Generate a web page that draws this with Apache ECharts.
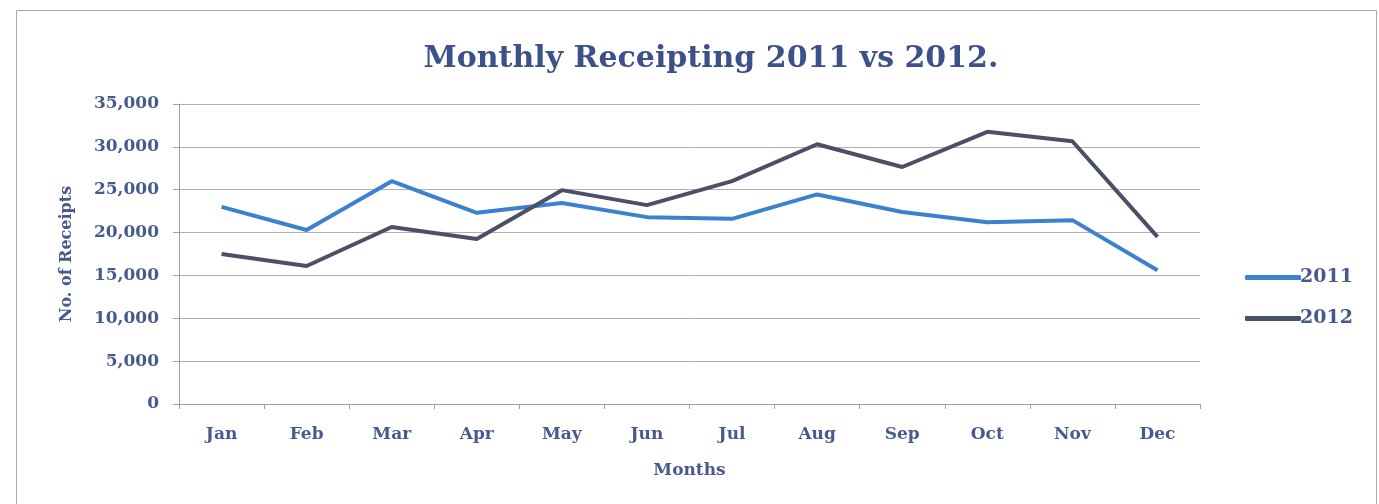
<!DOCTYPE html>
<html>
<head>
<meta charset="utf-8">
<script src="https://cdn.jsdelivr.net/npm/echarts@6/dist/echarts.min.js"></script>
<style>
  html, body { margin: 0; padding: 0; background: #ffffff; }
  #chart { width: 1379px; height: 504px; }
</style>
</head>
<body>
<div id="chart"></div>
<script>
// Monthly receipt counts, two years side by side
const months = ['Jan', 'Feb', 'Mar', 'Apr', 'May', 'Jun', 'Jul', 'Aug', 'Sep', 'Oct', 'Nov', 'Dec'];
const receipts2011 = [23000, 20300, 26000, 22300, 23450, 21800, 21600, 24450, 22400, 21200, 21450, 15600];
const receipts2012 = [17500, 16100, 20650, 19250, 24950, 23200, 26000, 30300, 27650, 31750, 30650, 19500];
const yTicks = { min: 0, max: 35000, interval: 5000 };

const serif = '"DejaVu Serif", "Liberation Serif", serif';
const ink = '#465a8c';

const chart = echarts.init(document.getElementById('chart'), null, { renderer: 'canvas' });
chart.setOption({
  backgroundColor: '#ffffff',
  animation: false,
  title: {
    text: 'Monthly Receipting 2011 vs 2012.',
    left: 706,
    textAlign: 'center',
    top: 39,
    textStyle: { fontFamily: serif, fontWeight: 'bold', fontSize: 30, color: '#3c508a' }
  },
  graphic: [{
    type: 'rect',
    shape: { x: 16.5, y: 10.5, width: 1360, height: 520 },
    style: { fill: 'none', stroke: '#a8a8a8', lineWidth: 1 },
    silent: true
  }],
  legend: {
    orient: 'vertical',
    left: 1240,
    top: 263,
    itemGap: 22,
    itemWidth: 56,
    itemHeight: 5,
    icon: 'roundRect',
    textStyle: { fontFamily: serif, fontWeight: 'bold', fontSize: 19, color: ink, padding: [0, 0, 0, -6] },
    data: ['2011', '2012']
  },
  grid: { left: 179, right: 179, top: 104, bottom: 100 },
  xAxis: {
    type: 'category',
    data: months,
    boundaryGap: true,
    name: 'Months',
    nameLocation: 'middle',
    nameGap: 58,
    nameTextStyle: { fontFamily: serif, fontWeight: 'bold', fontSize: 17, color: ink },
    axisLine: { lineStyle: { color: '#a0a0a0', width: 1 } },
    axisTick: { show: true, length: 5, lineStyle: { color: '#a0a0a0' } },
    axisLabel: { fontFamily: serif, fontWeight: 'bold', fontSize: 17, color: ink, margin: 22 }
  },
  yAxis: {
    type: 'value',
    min: yTicks.min,
    max: yTicks.max,
    interval: yTicks.interval,
    name: 'No. of Receipts',
    nameLocation: 'middle',
    nameGap: 104,
    nameRotate: 90,
    nameTextStyle: { fontFamily: serif, fontWeight: 'bold', fontSize: 16, color: ink },
    axisLine: { show: true, lineStyle: { color: '#a0a0a0', width: 1 } },
    axisTick: { show: true, length: 6, lineStyle: { color: '#a0a0a0' } },
    splitLine: { show: true, lineStyle: { color: '#b0b0b0', width: 1 } },
    axisLabel: {
      fontFamily: serif, fontWeight: 'bold', fontSize: 17, color: ink, margin: 20,
      formatter: v => v.toLocaleString('en-US')
    }
  },
  series: [
    {
      name: '2011',
      type: 'line',
      data: receipts2011,
      showSymbol: false,
      symbol: 'none',
      lineStyle: { color: '#3c80d0', width: 4 },
      itemStyle: { color: '#3c80d0' }
    },
    {
      name: '2012',
      type: 'line',
      data: receipts2012,
      showSymbol: false,
      symbol: 'none',
      lineStyle: { color: '#4a5066', width: 4 },
      itemStyle: { color: '#4a5066' }
    }
  ]
});
</script>
</body>
</html>
